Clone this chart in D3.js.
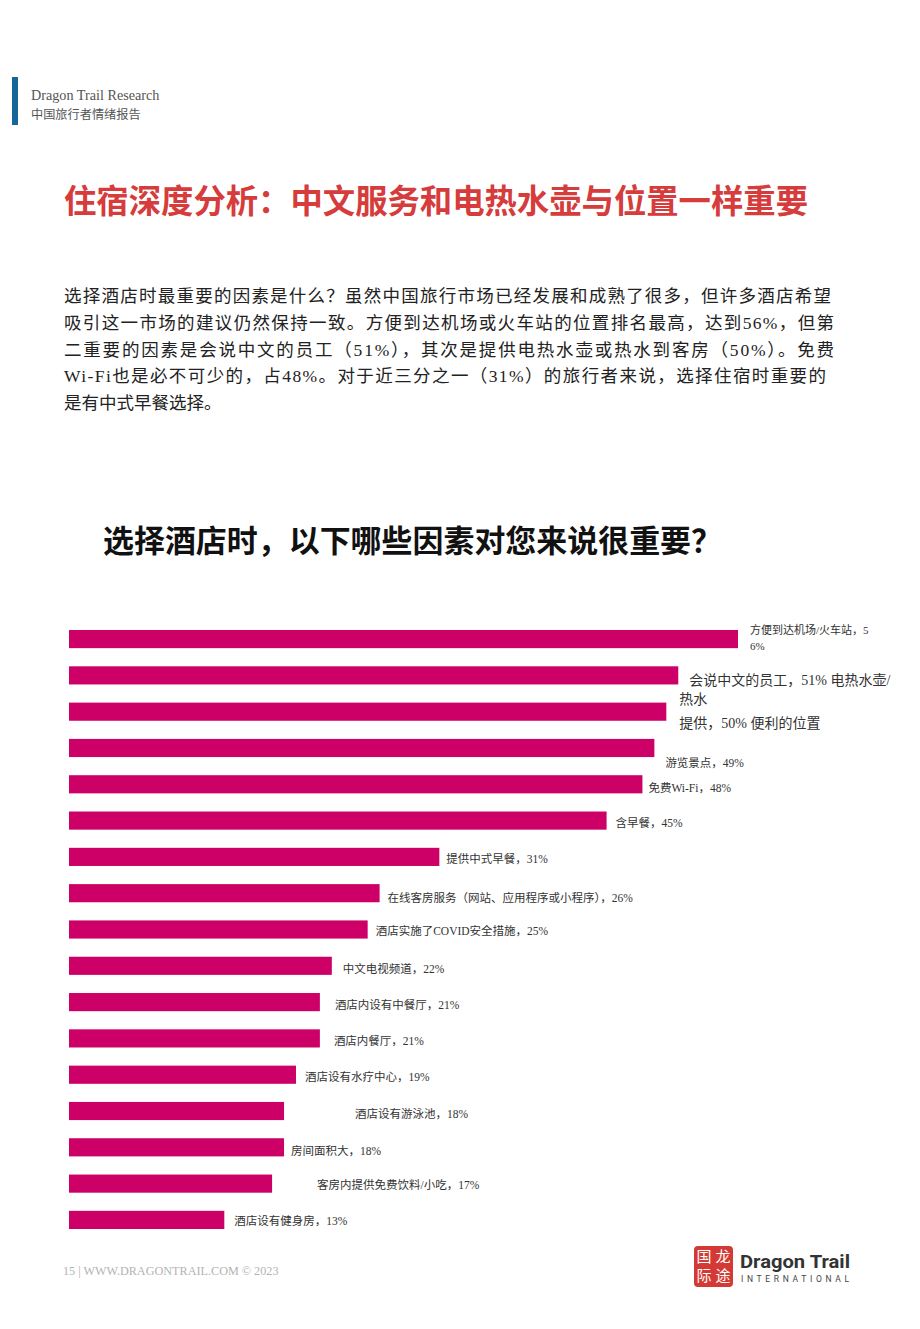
<!DOCTYPE html>
<html>
<head>
<meta charset="utf-8">
<script src="https://cdn.jsdelivr.net/npm/d3@7"></script>
<style>
  body { margin: 0; background: #fff; }
  svg { display: block; }
</style>
</head>
<body>
<div id="page"></div>
<script>
// chart data
const values = [56, 51, 50, 49, 48, 45, 31, 26, 25, 22, 21, 21, 19, 18, 18, 17, 13];
const labelLines = [
  ["方便到达机场/火车站，5", "6%"],
  ["会说中文的员工，51% 电热水壶/", "热水"],
  ["提供，50% 便利的位置"],
  ["游览景点，49%"],
  ["免费Wi-Fi，48%"],
  ["含早餐，45%"],
  ["提供中式早餐，31%"],
  ["在线客房服务（网站、应用程序或小程序），26%"],
  ["酒店实施了COVID安全措施，25%"],
  ["中文电视频道，22%"],
  ["酒店内设有中餐厅，21%"],
  ["酒店内餐厅，21%"],
  ["酒店设有水疗中心，19%"],
  ["酒店设有游泳池，18%"],
  ["房间面积大，18%"],
  ["客房内提供免费饮料/小吃，17%"],
  ["酒店设有健身房，13%"]
];
const paragraph = [
  "选择酒店时最重要的因素是什么？虽然中国旅行市场已经发展和成熟了很多，但许多酒店希望",
  "吸引这一市场的建议仍然保持一致。方便到达机场或火车站的位置排名最高，达到56%，但第",
  "二重要的因素是会说中文的员工（51%），其次是提供电热水壶或热水到客房（50%）。免费",
  "Wi-Fi也是必不可少的，占48%。对于近三分之一（31%）的旅行者来说，选择住宿时重要的",
  "是有中式早餐选择。"
];

// label placement offsets (layout, from bar end / bar centre)
const labelDx = [12, 11, 13, 11, 6, 9, 7, 8, 8, 11, 15, 14, 9, 71, 7, 45, 10];
const labelDy = [-5, 10, 16, 19, 8, 6, 6, 9, 5, 7, 7, 7, 6, 7, 8, 5, 5];
const labelSize = [11, 14, 14, 11.5, 11.5, 11.5, 11.5, 11.5, 11.5, 11.5, 11.5, 11.5, 11.5, 11.5, 11.5, 11.5, 11.5];
// where the second line starts, relative to the first
const line2Dx = [0, -10];

const W = 920, H = 1329;
const serif = "'Liberation Serif', 'DejaVu Serif', 'Noto Sans CJK SC', serif";
const sansCJK = "'Noto Sans CJK SC', 'Noto Sans', sans-serif";

const svg = d3.select("#page").append("svg")
  .attr("width", W)
  .attr("height", H);

// header
svg.append("rect").attr("x", 12).attr("y", 77).attr("width", 6).attr("height", 48).attr("fill", "#16669a");
svg.append("text").attr("x", 31).attr("y", 100)
  .style("font-family", serif).style("font-size", "14.2px").attr("fill", "#555")
  .text("Dragon Trail Research");
svg.append("text").attr("x", 31).attr("y", 119)
  .style("font-family", sansCJK).style("font-size", "12.2px").attr("fill", "#555")
  .text("中国旅行者情绪报告");

// page title
svg.append("text").attr("x", 64).attr("y", 213)
  .style("font-family", sansCJK).style("font-size", "33px").style("font-weight", "700")
  .attr("fill", "#d63c3c")
  .attr("textLength", 744).attr("lengthAdjust", "spacingAndGlyphs")
  .text("住宿深度分析：中文服务和电热水壶与位置一样重要");

// paragraph
const lineEnds = [831, 834, 834, 826, null];
svg.append("g").selectAll("text")
  .data(paragraph)
  .join("text")
  .attr("x", 64)
  .attr("y", (d, i) => 302 + i * 26.8)
  .style("font-family", "'Liberation Serif', 'Noto Sans CJK SC', serif")
  .style("font-size", "17.5px")
  .attr("fill", "#222")
  .each(function(d, i) {
    if (lineEnds[i]) d3.select(this).attr("textLength", lineEnds[i] - 64).attr("lengthAdjust", "spacing");
  })
  .text(d => d);

// chart title
svg.append("text").attr("x", 103).attr("y", 552)
  .style("font-family", sansCJK).style("font-size", "31px").style("font-weight", "700")
  .attr("fill", "#111")
  .attr("textLength", 619).attr("lengthAdjust", "spacingAndGlyphs")
  .text("选择酒店时，以下哪些因素对您来说很重要？");

// bars
const x = d3.scaleLinear().domain([0, 56]).range([69, 738]);
const y = d3.scaleBand().domain(d3.range(values.length)).range([630, 1229]).paddingInner(0.5).paddingOuter(0);

svg.append("g").selectAll("rect")
  .data(values)
  .join("rect")
  .attr("x", x(0))
  .attr("y", (d, i) => y(i))
  .attr("width", d => x(d) - x(0))
  .attr("height", y.bandwidth())
  .attr("fill", "#cc0066");

const labels = svg.append("g").selectAll("text")
  .data(values)
  .join("text")
  .attr("x", (d, i) => x(d) + labelDx[i])
  .attr("y", (d, i) => y(i) + y.bandwidth() / 2 + labelDy[i])
  .style("font-family", serif)
  .style("font-size", (d, i) => labelSize[i] + "px")
  .attr("fill", "#333");

labels.each(function(d, i) {
  const t = d3.select(this);
  const baseX = x(d) + labelDx[i];
  labelLines[i].forEach((line, j) => {
    t.append("tspan")
      .attr("x", j === 0 ? baseX : baseX + (line2Dx[i] || 0))
      .attr("dy", j === 0 ? 0 : (labelSize[i] > 13 ? 19 : 16))
      .text(line);
  });
});

// footer
svg.append("text").attr("x", 63).attr("y", 1275)
  .style("font-family", serif).style("font-size", "12.2px").attr("fill", "#b3b3b3")
  .text("15 | WWW.DRAGONTRAIL.COM © 2023");

const logo = svg.append("g").attr("transform", "translate(694,1246)");
logo.append("rect").attr("width", 39).attr("height", 41).attr("rx", 4).attr("fill", "#d43a35");
[["国", 10, 16], ["龙", 29, 16], ["际", 10, 35], ["途", 29, 35]].forEach(c => {
  logo.append("text").attr("x", c[1]).attr("y", c[2]).attr("text-anchor", "middle")
    .style("font-family", sansCJK).style("font-size", "15px").style("font-weight", "400")
    .attr("fill", "#fff").text(c[0]);
});
svg.append("text").attr("x", 740).attr("y", 1268)
  .style("font-family", "'Roboto', 'Noto Sans', sans-serif").style("font-size", "19px").style("font-weight", "700")
  .attr("fill", "#333").attr("textLength", 110).attr("lengthAdjust", "spacingAndGlyphs")
  .text("Dragon Trail");
svg.append("text").attr("x", 741).attr("y", 1282)
  .style("font-family", "'Roboto', 'Noto Sans', sans-serif").style("font-size", "8.5px")
  .attr("fill", "#444").attr("textLength", 108).attr("lengthAdjust", "spacing")
  .text("INTERNATIONAL");
</script>
</body>
</html>
